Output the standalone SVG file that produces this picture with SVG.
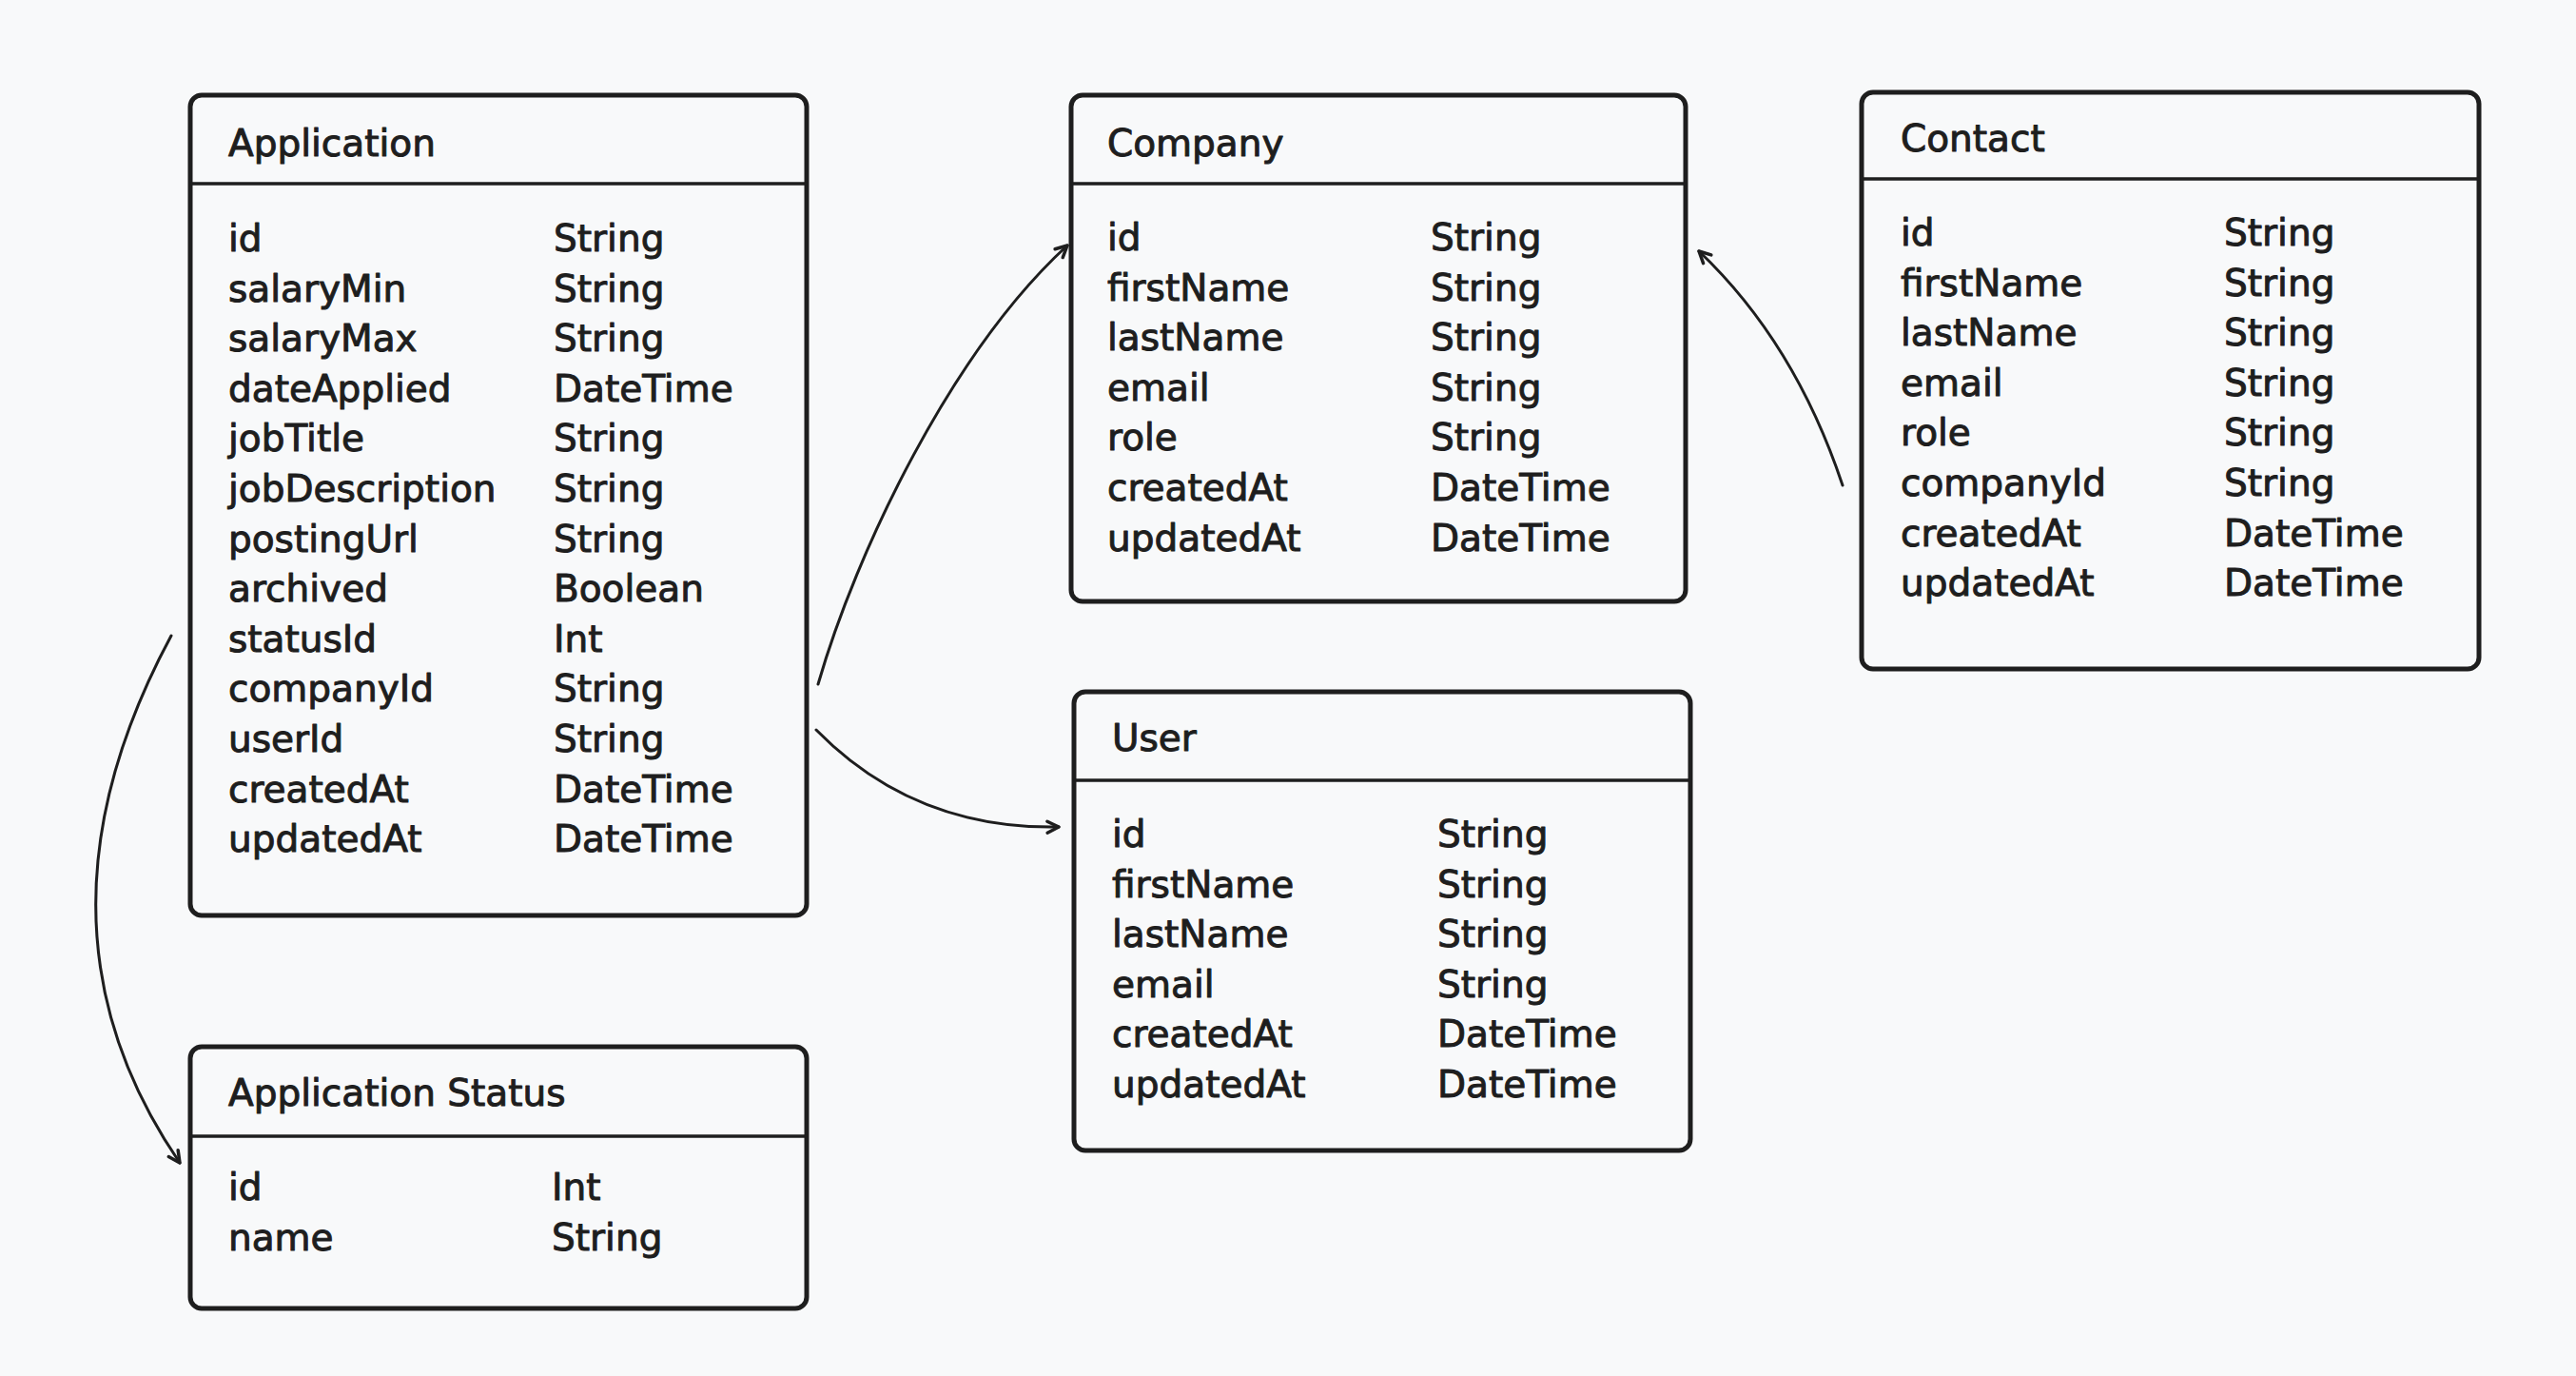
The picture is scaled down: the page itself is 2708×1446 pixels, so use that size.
<svg xmlns="http://www.w3.org/2000/svg" width="2708" height="1446" viewBox="0 0 2708 1446">
  <style>
    .box { fill: none; stroke: #1e1e1e; stroke-width: 5; }
    .divider { stroke: #1e1e1e; stroke-width: 3.5; }
    .title, .field { font-family: "DejaVu Sans", "Liberation Sans", sans-serif; font-size: 39px; fill: #1e1e1e; stroke: #1e1e1e; stroke-width: 1; stroke-linejoin: round; }
    .edge { fill: none; stroke: #1e1e1e; stroke-width: 3; stroke-linecap: round; }
  </style>
  <defs>
    <marker id="arrow" viewBox="-16 -10 20 20" refX="0" refY="0" markerWidth="20" markerHeight="20" markerUnits="userSpaceOnUse" orient="auto">
      <path d="M -12 -6 L 0 0 L -12 6" fill="none" stroke="#1e1e1e" stroke-width="3.5" stroke-linecap="round" stroke-linejoin="round"/>
    </marker>
  </defs>

  <rect width="2708" height="1446" fill="#f8f9fa"/>

  <!-- Application table -->
  <g id="application" transform="translate(0 0)">
    <rect class="box" x="200" y="100" width="648" height="862" rx="12"/>
    <line class="divider" x1="200" y1="193" x2="848" y2="193"/>
    <g transform="translate(0 2)">
      <text class="title" x="240" y="162">Application</text>
      <text class="field" x="240" y="262">id</text>
      <text class="field" x="240" y="314.6">salaryMin</text>
      <text class="field" x="240" y="367.2">salaryMax</text>
      <text class="field" x="240" y="419.8">dateApplied</text>
      <text class="field" x="240" y="472.4">jobTitle</text>
      <text class="field" x="240" y="525">jobDescription</text>
      <text class="field" x="240" y="577.6">postingUrl</text>
      <text class="field" x="240" y="630.2">archived</text>
      <text class="field" x="240" y="682.8">statusId</text>
      <text class="field" x="240" y="735.4">companyId</text>
      <text class="field" x="240" y="788">userId</text>
      <text class="field" x="240" y="840.6">createdAt</text>
      <text class="field" x="240" y="893.2">updatedAt</text>
      <text class="field" x="582" y="262">String</text>
      <text class="field" x="582" y="314.6">String</text>
      <text class="field" x="582" y="367.2">String</text>
      <text class="field" x="582" y="419.8">DateTime</text>
      <text class="field" x="582" y="472.4">String</text>
      <text class="field" x="582" y="525">String</text>
      <text class="field" x="582" y="577.6">String</text>
      <text class="field" x="582" y="630.2">Boolean</text>
      <text class="field" x="582" y="682.8">Int</text>
      <text class="field" x="582" y="735.4">String</text>
      <text class="field" x="582" y="788">String</text>
      <text class="field" x="582" y="840.6">DateTime</text>
      <text class="field" x="582" y="893.2">DateTime</text>
    </g>
  </g>

  <!-- Application Status table -->
  <g id="application-status">
    <rect class="box" x="200" y="1100" width="648" height="275" rx="12"/>
    <line class="divider" x1="200" y1="1194" x2="848" y2="1194"/>
    <g transform="translate(0 2)">
      <text class="title" x="240" y="1160">Application Status</text>
      <text class="field" x="240" y="1259">id</text>
      <text class="field" x="240" y="1312">name</text>
      <text class="field" x="580" y="1259">Int</text>
      <text class="field" x="580" y="1312">String</text>
    </g>
  </g>

  <!-- Company table -->
  <g id="company">
    <rect class="box" x="1126" y="100" width="646" height="532" rx="12"/>
    <line class="divider" x1="1126" y1="193" x2="1772" y2="193"/>
    <g transform="translate(0 2)">
      <text class="title" x="1164" y="162">Company</text>
      <text class="field" x="1164" y="261">id</text>
      <text class="field" x="1164" y="313.6">firstName</text>
      <text class="field" x="1164" y="366.2">lastName</text>
      <text class="field" x="1164" y="418.8">email</text>
      <text class="field" x="1164" y="471.4">role</text>
      <text class="field" x="1164" y="524">createdAt</text>
      <text class="field" x="1164" y="576.6">updatedAt</text>
      <text class="field" x="1504" y="261">String</text>
      <text class="field" x="1504" y="313.6">String</text>
      <text class="field" x="1504" y="366.2">String</text>
      <text class="field" x="1504" y="418.8">String</text>
      <text class="field" x="1504" y="471.4">String</text>
      <text class="field" x="1504" y="524">DateTime</text>
      <text class="field" x="1504" y="576.6">DateTime</text>
    </g>
  </g>

  <!-- Contact table -->
  <g id="contact">
    <rect class="box" x="1957" y="97" width="649" height="606" rx="12"/>
    <line class="divider" x1="1957" y1="188" x2="2606" y2="188"/>
    <g transform="translate(0 2)">
      <text class="title" x="1998" y="157">Contact</text>
      <text class="field" x="1998" y="256">id</text>
      <text class="field" x="1998" y="308.6">firstName</text>
      <text class="field" x="1998" y="361.2">lastName</text>
      <text class="field" x="1998" y="413.8">email</text>
      <text class="field" x="1998" y="466.4">role</text>
      <text class="field" x="1998" y="519">companyId</text>
      <text class="field" x="1998" y="571.6">createdAt</text>
      <text class="field" x="1998" y="624.2">updatedAt</text>
      <text class="field" x="2338" y="256">String</text>
      <text class="field" x="2338" y="308.6">String</text>
      <text class="field" x="2338" y="361.2">String</text>
      <text class="field" x="2338" y="413.8">String</text>
      <text class="field" x="2338" y="466.4">String</text>
      <text class="field" x="2338" y="519">String</text>
      <text class="field" x="2338" y="571.6">DateTime</text>
      <text class="field" x="2338" y="624.2">DateTime</text>
    </g>
  </g>

  <!-- User table -->
  <g id="user">
    <rect class="box" x="1129" y="727" width="648" height="482" rx="12"/>
    <line class="divider" x1="1129" y1="820" x2="1777" y2="820"/>
    <g transform="translate(0 2)">
      <text class="title" x="1169" y="787">User</text>
      <text class="field" x="1169" y="888">id</text>
      <text class="field" x="1169" y="940.6">firstName</text>
      <text class="field" x="1169" y="993.2">lastName</text>
      <text class="field" x="1169" y="1045.8">email</text>
      <text class="field" x="1169" y="1098.4">createdAt</text>
      <text class="field" x="1169" y="1151">updatedAt</text>
      <text class="field" x="1511" y="888">String</text>
      <text class="field" x="1511" y="940.6">String</text>
      <text class="field" x="1511" y="993.2">String</text>
      <text class="field" x="1511" y="1045.8">String</text>
      <text class="field" x="1511" y="1098.4">DateTime</text>
      <text class="field" x="1511" y="1151">DateTime</text>
    </g>
  </g>

  <!-- Relations -->
  <g id="connectors">
    <path class="edge" d="M 180 668 Q 17 971 189 1222" marker-end="url(#arrow)"/>
    <path class="edge" d="M 860 719 C 900 580 1000 370 1122 258" marker-end="url(#arrow)"/>
    <path class="edge" d="M 858 767 Q 961 872 1113 869" marker-end="url(#arrow)"/>
    <path class="edge" d="M 1937 510 Q 1887 360 1786 264" marker-end="url(#arrow)"/>
  </g>
</svg>
